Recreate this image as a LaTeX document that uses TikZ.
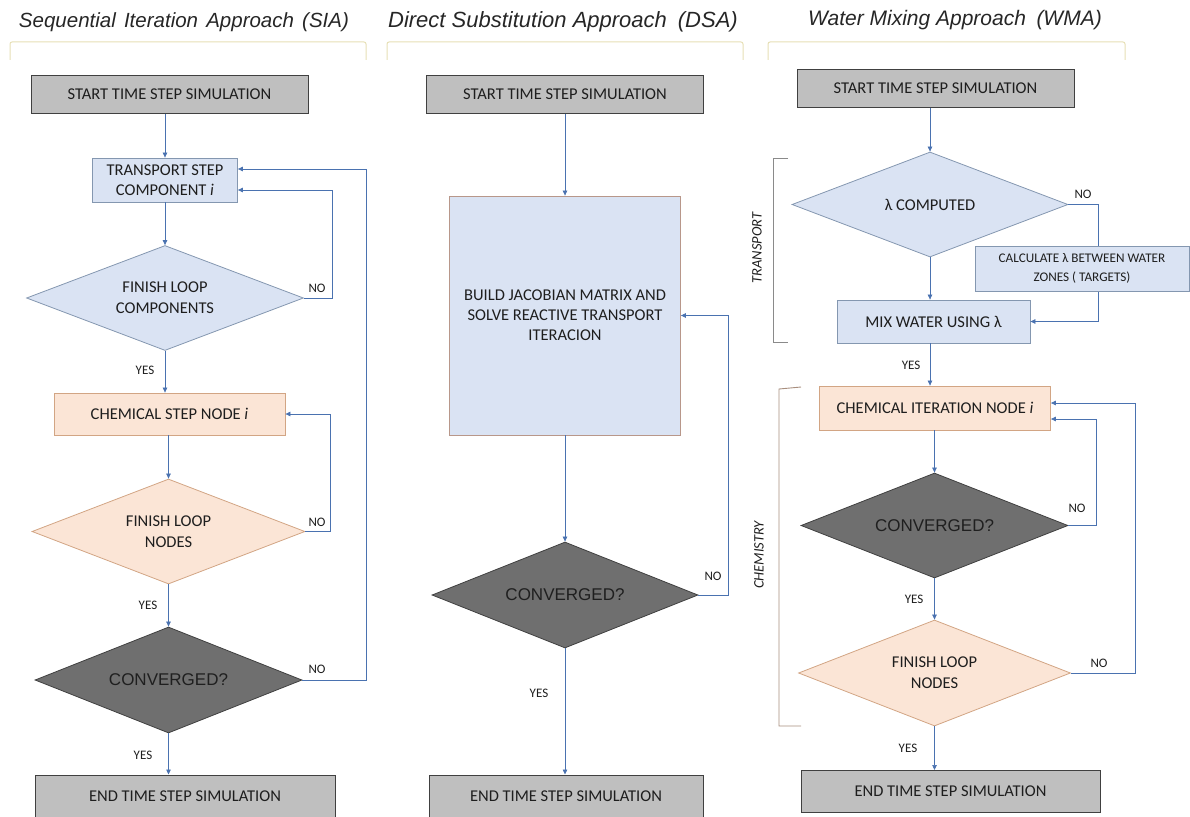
\documentclass[tikz,border=0pt]{standalone}
\usepackage{fontspec}
\setmainfont{Carlito}
\newfontfamily\arialf{Liberation Sans}
\usetikzlibrary{shapes.geometric,arrows.meta,calc}
\definecolor{boxgray}{HTML}{BFBFBF}
\definecolor{gborder}{HTML}{404040}
\definecolor{lblue}{HTML}{DAE3F3}
\definecolor{bborder}{HTML}{8497B0}
\definecolor{brborder}{HTML}{B8978A}
\definecolor{peach}{HTML}{FBE5D6}
\definecolor{pborder}{HTML}{D2A584}
\definecolor{dgray}{HTML}{6F6F6F}
\definecolor{arrc}{HTML}{4A72B0}
\definecolor{txt}{HTML}{1E1E1E}
\definecolor{titlebr}{HTML}{E6DFB5}
\definecolor{trbr}{HTML}{8A8A8A}
\definecolor{chbr}{HTML}{A88E7E}
\begin{document}
\begin{tikzpicture}[x=1pt,y=-1pt,
  box/.style={draw, line width=0.8pt, inner sep=0pt, align=center, text=txt,
    font=\fontsize{16.5}{20}\selectfont},
  gbox/.style={box, fill=boxgray, draw=gborder, line width=1pt},
  bbox/.style={box, fill=lblue, draw=bborder},
  pbox/.style={box, fill=peach, draw=pborder},
  dia/.style={diamond, aspect=2.6, inner sep=0pt, align=center, text=txt, line width=0.8pt,
    font=\fontsize{16.5}{21}\selectfont},
  bdia/.style={dia, fill=lblue, draw=bborder},
  pdia/.style={dia, fill=peach, draw=pborder},
  gdia/.style={dia, fill=dgray, draw=gborder, text=black!88, font=\arialf\fontsize{17}{20}\selectfont},
  arr/.style={-{Triangle[length=5pt,width=4.5pt]}, draw=arrc, line width=0.7pt},
  lbl/.style={inner sep=0pt, text=txt, font=\fontsize{13}{14}\selectfont},
  ttl/.style={inner sep=0pt, text=black!85, font=\arialf\itshape\fontsize{21}{24}\selectfont},
  tbrk/.style={draw=titlebr, line width=1pt, rounded corners=2pt},
  side/.style={inner sep=0pt, text=txt, rotate=90, font=\itshape\fontsize{14.5}{16}\selectfont}
]
\useasboundingbox (0,0) rectangle (1190,816);

% titles and brackets
\node[ttl, font=\arialf\itshape\fontsize{20.5}{24}\selectfont] (tsia) at (184,22) {Sequential\hspace{0.4em}Iteration\hspace{0.4em}Approach\hspace{0.4em}(SIA)};
\node[ttl, font=\arialf\itshape\fontsize{22}{24}\selectfont] (tdsa) at (563,22) {Direct Substitution Approach\hspace{0.5em}(DSA)};
\node[ttl] (twma) at (955,20) {Water Mixing Approach\hspace{0.5em}(WMA)};
\draw[tbrk] (10,60) -- (10,42) -- (366,42) -- (366,60);
\draw[tbrk] (387,60) -- (387,42) -- (743,42) -- (743,60);
\draw[tbrk] (768,60) -- (768,42) -- (1125,42) -- (1125,60);

% ================= SIA =================
\node[gbox, minimum width=277pt, minimum height=38pt] (s1) at (169.5,94) {START TIME STEP SIMULATION};
\node[bbox, minimum width=145pt, minimum height=44pt] (t1) at (165,180) {TRANSPORT STEP\\COMPONENT \textit{i}};
\node[bdia, minimum width=277pt, minimum height=105pt] (d1) at (165,298) {FINISH LOOP\\COMPONENTS};
\node[pbox, minimum width=231pt, minimum height=42pt] (c1) at (169.5,414) {CHEMICAL STEP NODE \textit{i}};
\node[pdia, minimum width=273pt, minimum height=105pt] (d2) at (168.5,531.5) {FINISH LOOP\\NODES};
\node[gdia, minimum width=267pt, minimum height=106pt] (d3) at (168.5,680) {CONVERGED?};
\node[gbox, minimum width=300pt, minimum height=43pt] (e1) at (185,796.5) {END TIME STEP SIMULATION};

\draw[arr] (s1.south -| t1.north) -- (t1.north);
\draw[arr] (t1.south) -- (d1.north);
\draw[arr] (d1.south) -- (d1.south |- c1.north);
\draw[arr] (c1.south -| d2.north) -- (d2.north);
\draw[arr] (d2.south) -- (d3.north);
\draw[arr] (d3.south) -- (d3.south |- e1.north);
\draw[arr] (d1.east) -- (332,298) |- ($(t1.east)+(0,10)$);
\draw[arr] (d2.east) -- (330,531.5) |- (c1.east);
\draw[arr] (d3.east) -- (366,680) |- ($(t1.east)+(0,-11)$);

\node[lbl] (n1) at (317,288) {NO};
\node[lbl] (y1) at (145,370) {YES};
\node[lbl] (n2) at (317,522) {NO};
\node[lbl] (y2) at (148,605) {YES};
\node[lbl] (n3) at (317,669) {NO};
\node[lbl] (y3) at (143,755) {YES};

% ================= DSA =================
\node[gbox, minimum width=277pt, minimum height=38pt] (s2) at (565,94) {START TIME STEP SIMULATION};
\node[box, fill=lblue, draw=brborder, minimum width=231pt, minimum height=239pt] (b2) at (565,315.5) {BUILD JACOBIAN MATRIX AND\\SOLVE REACTIVE TRANSPORT\\ITERACION};
\node[gdia, minimum width=266pt, minimum height=106pt] (d4) at (565,595) {CONVERGED?};
\node[gbox, minimum width=274pt, minimum height=43pt] (e2) at (566,796.5) {END TIME STEP SIMULATION};

\draw[arr] (s2.south) -- (b2.north);
\draw[arr] (b2.south) -- (d4.north);
\draw[arr] (d4.south) -- (d4.south |- e2.north);
\draw[arr] (d4.east) -- (728,595) |- (b2.east);

\node[lbl] (n4) at (713,576) {NO};
\node[lbl] (y4) at (539,693) {YES};

% ================= WMA =================
\node[gbox, minimum width=277pt, minimum height=38pt] (s3) at (935.5,88) {START TIME STEP SIMULATION};
\node[bdia, minimum width=276pt, minimum height=105pt] (d5) at (930,204.5) {λ COMPUTED};
\node[bbox, minimum width=193pt, minimum height=43pt] (mix) at (933.5,321.5) {MIX WATER USING λ};
\draw[arr] (d5.east) -- (1098,204.5) |- (mix.east);
\node[bbox, minimum width=214pt, minimum height=45pt, font=\fontsize{13.2}{19}\selectfont] (calc) at (1082,268.5) {CALCULATE λ BETWEEN WATER\\ZONES ( TARGETS)};
\node[pbox, minimum width=231pt, minimum height=44pt] (c2) at (935,408) {CHEMICAL ITERATION NODE \textit{i}};
\node[gdia, minimum width=267pt, minimum height=105pt] (d6) at (934.5,525.5) {CONVERGED?};
\node[pdia, minimum width=272pt, minimum height=106pt] (d7) at (934.5,673) {FINISH LOOP\\NODES};
\node[gbox, minimum width=299pt, minimum height=42pt] (e3) at (950.5,791.5) {END TIME STEP SIMULATION};

\draw[arr] (s3.south -| d5.north) -- (d5.north);
\draw[arr] (d5.south) -- (d5.south |- mix.north);
\draw[arr] (d5.south |- mix.south) -- (d5.south |- c2.north);
\draw[arr] (c2.south -| d6.north) -- (d6.north);
\draw[arr] (d6.south) -- (d7.north);
\draw[arr] (d7.south) -- (d7.south |- e3.north);
\draw[arr] (d6.east) -- (1096,525.5) |- ($(c2.east)+(0,11)$);
\draw[arr] (d7.east) -- (1135,673) |- ($(c2.east)+(0,-5)$);

\node[lbl] (n5) at (1083,194) {NO};
\node[lbl] (y5) at (911,365) {YES};
\node[lbl] (n6) at (1077,508) {NO};
\node[lbl] (y6) at (914,599) {YES};
\node[lbl] (n7) at (1099,663) {NO};
\node[lbl] (y7) at (908,748) {YES};

% side brackets
\draw[draw=trbr, line width=0.9pt] (788,158) -- (773,158) -- (773,342) -- (788,342);
\draw[draw=chbr, line width=0.9pt] (801,387) -- (779,389) -- (779,726) -- (801,726);
\node[side] (ltr) at (757,248) {TRANSPORT};
\node[side] (lch) at (759,555) {CHEMISTRY};
\end{tikzpicture}
\end{document}
